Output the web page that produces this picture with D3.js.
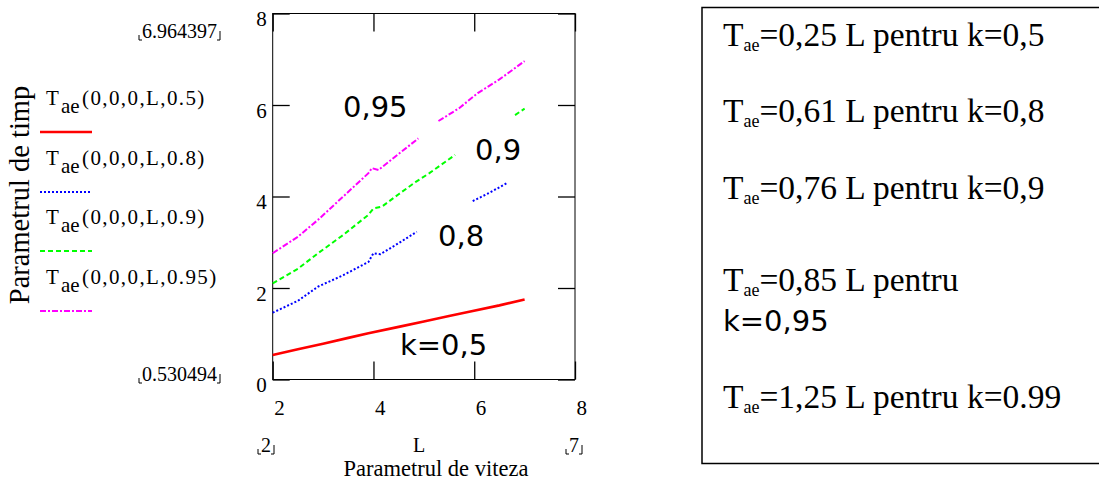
<!DOCTYPE html>
<html lang="ro">
<head>
<meta charset="utf-8">
<script src="https://cdn.jsdelivr.net/npm/d3@7"></script>
<style>
    body { margin: 0; background: #fff; }
    .serif { font-family: "Liberation Serif", "Times New Roman", serif; fill: #000; }
    .sans { font-family: "DejaVu Sans", sans-serif; fill: #000; }
    .axis line { stroke: #000; stroke-width: 1.3; }
    .axis path { display: none; }
</style>
</head>
<body>
<script>
// values: [L, Tae], null = break in the trace
const xTicks = [2, 4, 6, 8];
const yTicks = [0, 2, 4, 6, 8];

const traceK05 = [[2, 0.535], [2.5, 0.66], [3, 0.78], [3.5, 0.91], [3.9, 1.01], [4.5, 1.15],
                  [5, 1.27], [5.5, 1.39], [5.9, 1.48], [6.5, 1.62], [7, 1.75]];
const traceK08 = [[2, 1.46], [2.5, 1.72], [2.9, 2.03], [3.4, 2.28], [3.9, 2.57], [4.0, 2.76],
                  [4.14, 2.74], [4.5, 2.98], [4.86, 3.23], null, [5.97, 3.90], [6.3, 4.08], [6.66, 4.30]];
const traceK09 = [[2, 2.10], [2.5, 2.42], [2.9, 2.76], [3.4, 3.16], [3.9, 3.60], [4.0, 3.74],
                  [4.17, 3.78], [4.5, 4.05], [4.84, 4.32], [5.11, 4.51], [5.62, 4.91], null,
                  [6.81, 5.78], [7, 5.92]];
const traceK095 = [[2, 2.76], [2.5, 3.12], [2.9, 3.49], [3.4, 4.0], [3.9, 4.51], [3.97, 4.62],
                   [4.1, 4.58], [4.5, 4.93], [4.89, 5.27], null, [5.29, 5.65], [5.7, 5.93],
                   [6.07, 6.26], [6.5, 6.56], [7, 6.96]];

const legendArgs = ["(0,0,0,L,0.5)", "(0,0,0,L,0.8)", "(0,0,0,L,0.9)", "(0,0,0,L,0.95)"];
const curveLabels = ["k=0,5", "0,8", "0,9", "0,95"];
const yMinMax = ["0.530494", "6.964397"];
const xMinMax = ["2", "7"];
const boxCoefs = ["0,25", "0,61", "0,76", "0,85", "1,25"];
const boxK = ["0,5", "0,8", "0,9", "0,95", "0.99"];

const w = 1099, h = 483;
const serifFont = "'Liberation Serif', 'Times New Roman', serif";
const svg = d3.select("body").append("svg").attr("width", w).attr("height", h);

const xScale = d3.scaleLinear().domain([2, 8]).range([272.7, 575]);
const yScale = d3.scaleLinear().domain([0, 8]).range([379.5, 13.5]);

// frame + inner ticks on all sides
svg.append("rect")
    .attr("x", xScale(2)).attr("y", yScale(8))
    .attr("width", xScale(8) - xScale(2)).attr("height", yScale(0) - yScale(8))
    .attr("fill", "none").attr("stroke", "#000").attr("stroke-width", 1);

const gx = svg.append("g").attr("class", "axis")
    .attr("transform", "translate(0," + yScale(0) + ")")
    .call(d3.axisBottom(xScale).tickValues(xTicks).tickSize(-18).tickFormat(d3.format("d")));
gx.attr("font-family", serifFont);
gx.selectAll("text").attr("font-size", 21).attr("fill", "#000")
    .attr("text-anchor", "start").attr("x", 1).attr("y", 35).attr("dy", 0);

svg.append("g").attr("class", "axis")
    .attr("transform", "translate(0," + yScale(8) + ")")
    .call(d3.axisTop(xScale).tickValues(xTicks).tickSize(-18).tickFormat(""));

const gy = svg.append("g").attr("class", "axis")
    .attr("transform", "translate(" + xScale(2) + ",0)")
    .call(d3.axisLeft(yScale).tickValues(yTicks).tickSize(-17).tickFormat(d3.format("d")));
gy.attr("font-family", serifFont);
gy.selectAll("text").attr("font-size", 21).attr("fill", "#000")
    .attr("text-anchor", "end").attr("x", -6).attr("y", 12).attr("dy", 0);

svg.append("g").attr("class", "axis")
    .attr("transform", "translate(" + xScale(8) + ",0)")
    .call(d3.axisRight(yScale).tickValues(yTicks).tickSize(-17).tickFormat(""));

// traces
const series = [
    {data: traceK05, color: "#ff0000", width: 2.6, dash: null},
    {data: traceK08, color: "#0000ff", width: 2, dash: "2,2"},
    {data: traceK09, color: "#00ff00", width: 2, dash: "5,3"},
    {data: traceK095, color: "#ff00ff", width: 2, dash: "6,2,2,2"}
];
const line = d3.line()
    .defined(d => d !== null)
    .x(d => xScale(d[0]))
    .y(d => yScale(d[1]));

svg.selectAll("path.trace")
    .data(series)
    .enter()
    .append("path")
    .attr("class", "trace")
    .attr("d", d => line(d.data))
    .attr("fill", "none")
    .attr("stroke", d => d.color)
    .attr("stroke-width", d => d.width)
    .attr("stroke-dasharray", d => d.dash);

// in-plot labels
const labelPos = [[400, 355], [438, 246], [475, 160], [343, 117]];
svg.selectAll("text.curve")
    .data(curveLabels)
    .enter()
    .append("text")
    .attr("class", "sans")
    .attr("font-size", 29)
    .attr("x", (d, i) => labelPos[i][0])
    .attr("y", (d, i) => labelPos[i][1])
    .text(d => d);

// min / max markers with small corner brackets
function corner(x, y, left, hgt) {
    const p = left ? "M" + x + "," + (y - hgt) + "V" + y + "H" + (x + 3)
                   : "M" + x + "," + (y - hgt) + "V" + y + "H" + (x - 3);
    svg.append("path").attr("d", p).attr("fill", "none").attr("stroke", "#000").attr("stroke-width", 1);
}
function bracketed(str, x, y, size) {
    const t = svg.append("text").attr("class", "serif").attr("font-size", size)
        .attr("x", x + 3).attr("y", y).text(str);
    const tw = t.node().getComputedTextLength();
    corner(x, y + 2, true, 5);
    corner(x + tw + 6, y + 2, false, 9);
}
bracketed(yMinMax[1], 139, 38, 20);
bracketed(yMinMax[0], 139, 381, 20);
bracketed(xMinMax[0], 258, 452, 20);
bracketed(xMinMax[1], 566, 452, 20);
svg.append("text").attr("class", "serif").attr("font-size", 20)
    .attr("x", 413).attr("y", 452).text("L");

// axis titles
svg.append("text").attr("class", "serif").attr("font-size", 22.5)
    .attr("x", 436).attr("y", 476).attr("text-anchor", "middle")
    .text("Parametrul de viteza");
svg.append("text").attr("class", "serif").attr("font-size", 28.5)
    .attr("text-anchor", "middle")
    .attr("transform", "translate(29,195) rotate(-90)")
    .text("Parametrul de timp");

// legend
const legendY = [105, 165, 224, 284];
legendArgs.forEach((arg, i) => {
    const s = series[i];
    const t = svg.append("text").attr("class", "serif").attr("font-size", 21)
        .attr("x", 46).attr("y", legendY[i]);
    t.append("tspan").text("T");
    t.append("tspan").attr("x", 61).attr("dy", 8).text("ae");
    t.append("tspan").attr("x", 82).attr("dy", -8).attr("letter-spacing", 1.4).text(arg);
    svg.append("line")
        .attr("x1", 40).attr("x2", 92)
        .attr("y1", legendY[i] + 27).attr("y2", legendY[i] + 27)
        .attr("stroke", s.color).attr("stroke-width", s.width)
        .attr("stroke-dasharray", s.dash);
});

// formula box
svg.append("rect")
    .attr("x", 702).attr("y", 7.5).attr("width", 420).attr("height", 456)
    .attr("fill", "none").attr("stroke", "#000").attr("stroke-width", 1.5);

const boxY = [46, 122, 199, 291, 408];
boxCoefs.forEach((c, i) => {
    const wrap = i === 3;
    const t = svg.append("text").attr("class", "serif").attr("font-size", 33.5)
        .attr("x", 723).attr("y", boxY[i]);
    t.append("tspan").text("T");
    t.append("tspan").attr("font-size", 18).attr("dy", 5).text("ae");
    t.append("tspan").attr("dy", -5).text("=" + c + " L pentru" + (wrap ? "" : " k=" + boxK[i]));
    if (wrap) {
        svg.append("text").attr("class", "sans").attr("font-size", 29)
            .attr("x", 723).attr("y", boxY[i] + 40).text("k=" + boxK[i]);
    }
});
</script>
</body>
</html>
